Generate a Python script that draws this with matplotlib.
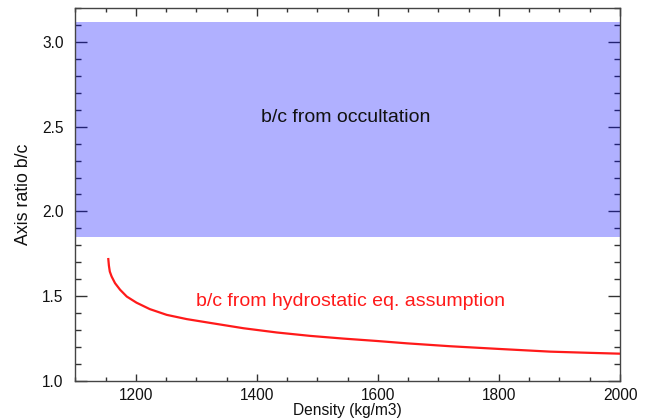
import matplotlib
matplotlib.use("Agg")
import matplotlib.pyplot as plt
from matplotlib.ticker import MultipleLocator, FormatStrFormatter

plt.rcParams['font.family'] = ['Liberation Sans', 'DejaVu Sans']

# Hydrostatic-equilibrium axis ratio versus bulk density
density = [1154.5, 1155.5, 1157.0, 1160.0, 1165.6, 1174.0, 1185.0, 1201.0, 1223.0,
           1251.0, 1284.0, 1322.0, 1378.0, 1433.0, 1488.0, 1543.0, 1598.0, 1648.0,
           1719.0, 1800.0, 1885.0, 1950.0, 2000.0]
ratio_bc = [1.719, 1.680, 1.645, 1.616, 1.577, 1.538, 1.498, 1.462, 1.424,
            1.390, 1.365, 1.343, 1.311, 1.286, 1.266, 1.250, 1.236, 1.222,
            1.205, 1.189, 1.173, 1.166, 1.161]

# Range of b/c allowed by the occultation
occ_low, occ_high = 1.852, 3.12

xlim = (1100, 2000)
ylim = (1.0, 3.2)

fig = plt.figure(figsize=(6.51, 4.2), dpi=100)
ax = fig.add_axes([0.1157, 0.0929, 0.9524 - 0.1157, 0.981 - 0.0929])

ax.set_axisbelow(True)
ax.axhspan(occ_low, occ_high, color=(0.0, 0.0, 1.0), alpha=0.31, lw=0, zorder=1)
ax.plot(density, ratio_bc, color='#ff1a1a', lw=1.6, zorder=3,
        solid_joinstyle='round')

ax.text(1546, 2.553, 'b/c from occultation', fontsize=14, color='#111111',
        ha='center', va='center', zorder=4)
ax.text(1555, 1.47, 'b/c from hydrostatic eq. assumption', fontsize=14,
        color='#ff1a1a', ha='center', va='center', zorder=4)

ax.set_xlim(*xlim)
ax.set_ylim(*ylim)
ax.xaxis.set_major_locator(MultipleLocator(200))
ax.xaxis.set_minor_locator(MultipleLocator(50))
ax.yaxis.set_major_locator(MultipleLocator(0.5))
ax.yaxis.set_minor_locator(MultipleLocator(0.1))
ax.yaxis.set_major_formatter(FormatStrFormatter('%.1f'))

ax.tick_params(axis='both', which='both', direction='in', top=True, right=True,
               color='#333333', width=1, labelsize=11.2, labelcolor='#111111')
ax.tick_params(axis='x', which='major', length=5.4, pad=5)
ax.tick_params(axis='x', which='minor', length=2.9)
ax.tick_params(axis='y', which='major', length=8.3, pad=8.5)
ax.tick_params(axis='y', which='minor', length=4.3)

for sp in ax.spines.values():
    sp.set_color('#444444')
    sp.set_linewidth(1.0)

ax.set_xlabel('Density (kg/m3)', fontsize=11.2, color='#111111', labelpad=0)
ax.set_ylabel('Axis ratio b/c', fontsize=12.8, color='#111111', labelpad=7)

fig.savefig('out.png', dpi=100)
